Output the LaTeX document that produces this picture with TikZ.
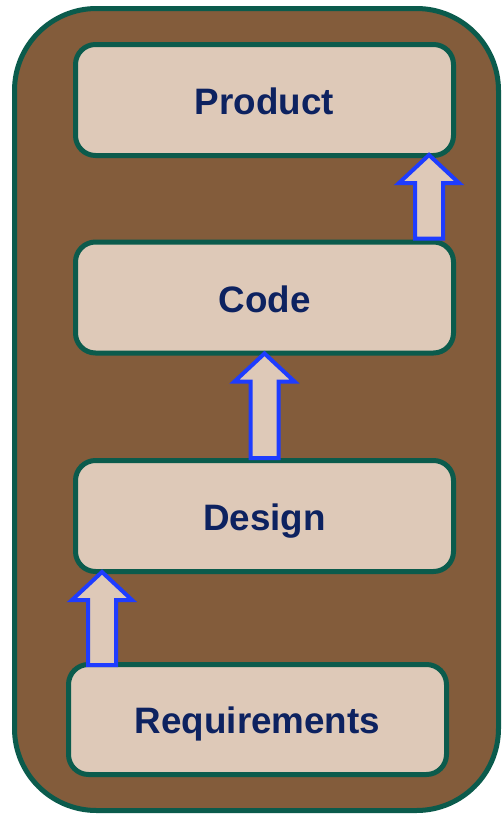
\documentclass[tikz,border=0pt]{standalone}
\usepackage{fontspec}
\setmainfont{Liberation Sans}
\usetikzlibrary{calc}
\definecolor{frameBrown}{HTML}{835C3B}
\definecolor{frameGreen}{HTML}{0B5B4C}
\definecolor{boxFill}{HTML}{DEC9B8}
\definecolor{labelNavy}{HTML}{0D2260}
\definecolor{arrowBlue}{HTML}{1E3CFF}
\tikzset{
  stagebox/.style={draw=frameGreen, fill=boxFill, line width=5pt,
    rounded corners=20pt, minimum width=378pt, minimum height=111pt,
    inner sep=0pt, outer sep=0pt, text=labelNavy,
    text height=26.3pt, text depth=0pt,
    font=\fontsize{36.8}{40}\selectfont\bfseries},
  stagelabel/.style={text=labelNavy, inner sep=0pt,
    text height=26.3pt, text depth=0pt,
    font=\fontsize{36.8}{40}\selectfont\bfseries},
  hollowarrow/.style={draw=arrowBlue, fill=boxFill, line width=4pt, line join=miter}
}
% block arrow from tail #1 to tip #2 (vertical, pointing up)
\newcommand\upblockarrow[2]{%
  \draw[hollowarrow] let \p1=#1, \p2=#2 in
    (\x1-14pt,\y1) -- (\x1-14pt,\y2-28pt) -- (\x1-30pt,\y2-28pt) -- (\x1,\y2)
    -- (\x1+30pt,\y2-28pt) -- (\x1+14pt,\y2-28pt) -- (\x1+14pt,\y1) -- cycle;}
\begin{document}
\begin{tikzpicture}[x=1pt,y=-1pt]
  \useasboundingbox (0,0) rectangle (501,814);
  % enclosing frame
  \draw[draw=frameGreen, fill=frameBrown, line width=5pt, rounded corners=82pt]
    (14.5,8.5) rectangle (498.5,810.5);
  % stages (labels sit slightly below the box centre)
  \node[stagebox] (prod) at (264.5,100) {};
  \node[stagebox] (code) at (264.5,297.5) {};
  \node[stagebox] (design) at (264.5,516) {};
  \node[stagebox, minimum height=110pt] (req) at (257.5,719.5) {};
  \node[stagelabel] (prodlbl)   at ($(prod.center)+(0,1.5)$)   {Product};
  \node[stagelabel] (codelbl)   at ($(code.center)+(0,1.5)$)   {Code};
  \node[stagelabel] (designlbl) at ($(design.center)+(0,1.8)$) {Design};
  \node[stagelabel] (reqlbl)    at ($(req.center)+(0,0.8)$)    {Requirements};
  % arrow tails sit just inside the lower box border, tips just below the upper box
  \coordinate (a1tail) at ($(req.north west)+(33.5,0.5)$);
  \coordinate (a1tip)  at ($(design.south west)+(26.5,0.5)$);
  \coordinate (a2tail) at ($(design.north)+(0,-2.5)$);
  \coordinate (a2tip)  at ($(code.south)+(0,0.5)$);
  \coordinate (a3tail) at ($(code.north east)+(-24.5,-3.5)$);
  \coordinate (a3tip)  at ($(prod.south east)+(-24.5,-0.5)$);
  \upblockarrow{(a1tail)}{(a1tip)}
  \upblockarrow{(a2tail)}{(a2tip)}
  \upblockarrow{(a3tail)}{(a3tip)}
\end{tikzpicture}
\end{document}
